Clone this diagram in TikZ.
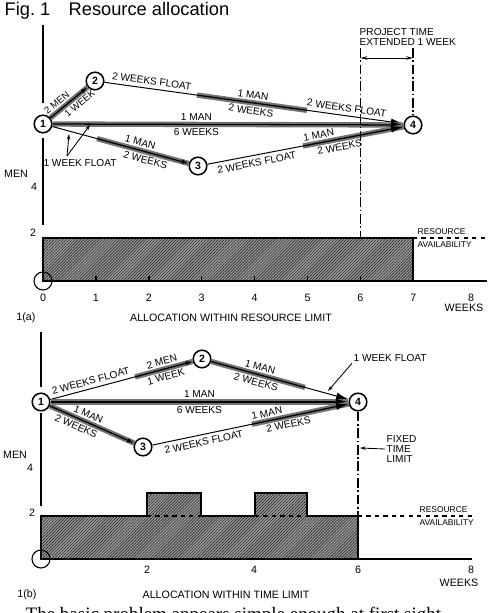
\documentclass[tikz,border=0pt]{standalone}
\usepackage{fontspec}
\setmainfont{Liberation Sans}
\newfontfamily\textserif{Liberation Serif}
\usetikzlibrary{arrows.meta,positioning,calc,patterns.meta}

\begin{document}
\begin{tikzpicture}[x=0.025cm, y=-0.025cm,
    every node/.style={font=\fontsize{7.2}{7.2}\selectfont, inner sep=1pt},
    event/.style={circle, draw, line width=1.1pt, minimum size=0.44cm, inner sep=0pt, fill=white, font=\fontsize{7.5}{8}\selectfont\bfseries},
    axlabel/.style={font=\fontsize{7.6}{8}\selectfont},
    tinytext/.style={font=\fontsize{6}{6.5}\selectfont},
    abv/.style={sloped, above=1.6pt},
    blw/.style={sloped, below=1.6pt},
    act/.style={line width=0.9pt, preaction={draw=black!55, line width=3.8pt, arrows=-}},
    floatline/.style={line width=0.7pt},
    tip/.style={-{Latex[length=5pt, width=3.2pt]}},
    bigtip/.style={-{Latex[length=9pt, width=5pt]}},
    ptr/.style={-{Stealth[length=4pt, width=2.5pt]}, line width=0.6pt},
    axis/.style={line width=1pt},
    limit/.style={line width=0.8pt, dash pattern=on 7pt off 1.8pt on 1.2pt off 1.8pt},
    hatch/.style={draw, line width=1pt, preaction={fill=black!38}, pattern={Lines[angle=45, distance=1.5pt, line width=0.45pt]}, pattern color=black!85}
]
\useasboundingbox (0,0) rectangle (492,613);

% Title
\node[anchor=base west, font=\fontsize{13}{15}\selectfont] (title) at (3,15) {Fig.~1\quad Resource allocation};

% 1(a) — events
\node[event] (a1) at (43,124) {1};
\node[event] (a2) at (95,81) {2};
\node[event] (a3) at (198,166) {3};
\node[event] (a4) at (413,125) {4};

% 1(a) — where float turns into work
\coordinate (a24s) at (197,95.1);
\coordinate (a24e) at (307,110.3);
\coordinate (a13s) at (97,138.6);
\coordinate (a34s) at (303,146);

% 1(a) — activities
\draw[act, tip] (a1) -- node[abv, pos=.3, font=\fontsize{6.8}{6.8}\selectfont] {2 MEN} node[blw, pos=.66, font=\fontsize{6.8}{6.8}\selectfont] {1 WEEK} (a2);
\draw[floatline] (a2) -- node[abv] {2 WEEKS FLOAT} (a24s);
\draw[act] (a24s) -- node[abv] {1 MAN} node[blw] {2 WEEKS} (a24e);
\draw[floatline, bigtip] (a24e) -- node[abv, pos=.4] {2 WEEKS FLOAT} (a4);
\draw[act, bigtip] (a1) -- node[abv, pos=.41] {1 MAN} node[blw, pos=.41] {6 WEEKS} (a4);
\draw[floatline] (a1) -- (a13s);
\draw[act, tip] (a13s) -- node[abv, pos=.45] {1 MAN} node[blw, pos=.55] {2 WEEKS} (a3);
\draw[floatline] (a3) -- node[blw] {2 WEEKS FLOAT} (a34s);
\draw[act, bigtip] (a34s) -- node[abv, pos=.17] {1 MAN} node[blw, pos=.35] {2 WEEKS} (a4);

% 1(a) — float pointer
\node (wfa) at (80,163) {1 WEEK FLOAT};
\coordinate (wfat) at (67,156);
\coordinate (wfa1) at (69,134);
\coordinate (wfa2) at (90,125);
\draw[ptr] (wfat) -- (wfa1);
\draw[ptr] (wfat) -- (wfa2);

% 1(a) — time limits
\draw[axis] (43,25) -- (43,103);
\draw[axis] (43,138) -- (43,225);
\draw[limit] (360.4,48) -- (360.4,281);
\draw[limit] (413,48) -- (a4);
\coordinate (pta) at (360.4,58);
\coordinate (ptb) at (413,58);
\draw[{Stealth[length=5pt, width=2.5pt]}-{Stealth[length=5pt, width=2.5pt]}, line width=0.7pt] (pta) -- (ptb);
\node[anchor=south west, align=left] (ptl) at (358,47) {PROJECT TIME\\EXTENDED 1 WEEK};

% 1(a) — resource chart
\draw[hatch] (43,238) rectangle (413,281);
\draw[axis] (43,281) -- (487,281);
\draw[line width=0.8pt] (43,281) circle (9);
\foreach \w in {1,...,6}
    \draw[axis] (43+52.9*\w,281) -- (43+52.9*\w,276);
\foreach \w in {0,...,7}
    \node[axlabel] at (43+52.9*\w,298) {\w};
\node[axlabel] at (471,298) {8};
\node[axlabel] at (464,308) {WEEKS};
\draw[dashed, line width=0.8pt] (413,238) -- (488,238);
\node[tinytext, anchor=south west] (rsa) at (416,236) {RESOURCE};
\node[tinytext, anchor=north west] (ava) at (416,240) {AVAILABILITY};
\node[axlabel] (mena) at (16,174) {MEN};
\node[axlabel] (m4a) at (34,187) {4};
\node[axlabel] (m2a) at (33,233) {2};
\node[axlabel] (capa) at (26,318) {1(a)};
\node[axlabel] (alla) at (231,318) {ALLOCATION WITHIN RESOURCE LIMIT};

% 1(b) — events
\node[event] (b1) at (41,402) {1};
\node[event] (b2) at (202,359) {2};
\node[event] (b3) at (143,447) {3};
\node[event] (b4) at (358,402) {4};

% 1(b) — where float turns into work
\coordinate (b12s) at (135,376.9);
\coordinate (b24e) at (305,387.4);
\coordinate (b34s) at (252,424.2);

% 1(b) — activities
\draw[floatline] (b1) -- node[abv] {2 WEEKS FLOAT} (b12s);
\draw[act, tip] (b12s) -- node[abv] {2 MEN} node[blw] {1 WEEK} (b2);
\draw[act] (b2) -- node[abv] {1 MAN} node[blw] {2 WEEKS} (b24e);
\draw[floatline, bigtip] (b24e) -- (b4);
\draw[act, bigtip] (b1) -- node[abv] {1 MAN} node[blw] {6 WEEKS} (b4);
\draw[act, tip] (b1) -- node[abv, pos=.42] {1 MAN} node[blw, pos=.35] {2 WEEKS} (b3);
\draw[floatline] (b3) -- node[blw] {2 WEEKS FLOAT} (b34s);
\draw[act, bigtip] (b34s) -- node[abv, pos=.17] {1 MAN} node[blw, pos=.36] {2 WEEKS} (b4);

% 1(b) — float pointer and fixed limit
\node[anchor=west] (wfb) at (352,358) {1 WEEK FLOAT};
\coordinate (wfbt) at (328,391);
\draw[ptr] (wfb.south west) -- (wfbt);
\draw[axis] (41,332) -- (41,387);
\draw[axis] (41,413) -- (41,506);
\draw[limit] (b4) -- (358,559);
\node[anchor=west, align=left] (ftl) at (385,449) {FIXED\\TIME\\LIMIT};
\coordinate (ftp) at (360,448);
\draw[ptr] (ftl.west) -- (ftp);

% 1(b) — resource chart
\draw[hatch] (41,559) -- (41,516) -- (147,516) -- (147,493) -- (201,493) -- (201,516)
    -- (255,516) -- (255,493) -- (307,493) -- (307,516) -- (358,516) -- (358,559) -- cycle;
\draw[dashed, line width=0.8pt] (147,516) -- (201,516);
\draw[dashed, line width=0.8pt] (255,516) -- (307,516);
\draw[dashed, line width=0.8pt] (358,516) -- (475,516);
\draw[axis] (41,559) -- (472,559);
\draw[line width=0.8pt] (41,559) circle (9);
\node[tinytext, anchor=south west] (rsb) at (418,514) {RESOURCE};
\node[tinytext, anchor=north west] (avb) at (418,518) {AVAILABILITY};
\node[axlabel] (menb) at (15,455) {MEN};
\node[axlabel] (m4b) at (30,468) {4};
\node[axlabel] (m2b) at (32,513) {2};
\foreach \w/\x in {2/147, 4/254, 6/358}
    \node[axlabel] at (\x,570) {\w};
\node[axlabel] at (471,570) {8};
\node[axlabel] at (459,583) {WEEKS};
\node[axlabel] (capb) at (27,595) {1(b)};
\node[axlabel] (allb) at (226,595) {ALLOCATION WITHIN TIME LIMIT};

% running text below
\node[anchor=base west, font=\textserif\fontsize{13.5}{15}\selectfont] (body) at (24,620) {The basic problem appears simple enough at first sight};
\end{tikzpicture}
\end{document}
